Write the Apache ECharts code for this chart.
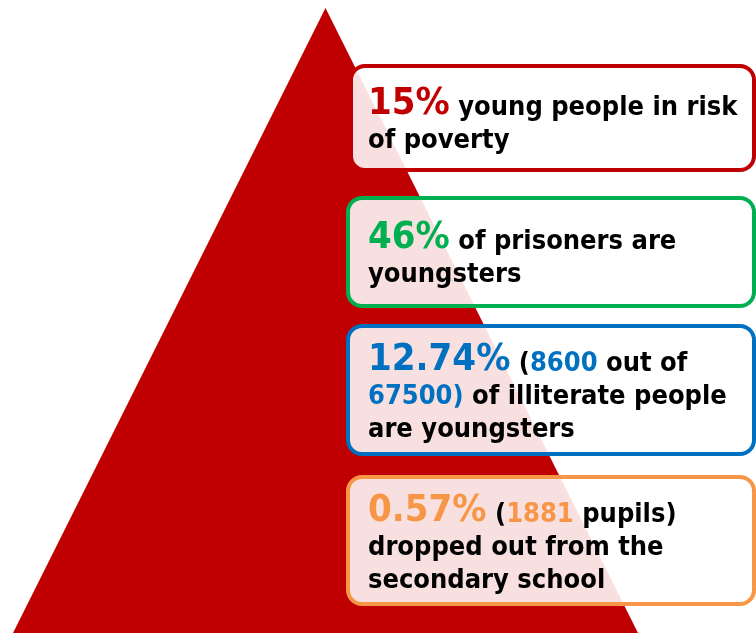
<!DOCTYPE html>
<html>
<head>
<meta charset="utf-8">
<script src="https://cdn.jsdelivr.net/npm/echarts@6/dist/echarts.min.js"></script>
<style>
html,body{margin:0;padding:0;background:#fff;}
#main{width:756px;height:633px;}
</style>
</head>
<body>
<div id="main"></div>
<script>
// ---- data ----
const pyramidValue = [100];
const statColors = ['#C00000', '#00B050', '#0070C0', '#F79646'];
const statValues = ['15%', '46%', '12.74%', '0.57%'];
const statLines = [
  ['{n|15%} {t|young people in risk}', '{t|of poverty}'],
  ['{n|46%} {t|of prisoners are}', '{t|youngsters}'],
  ['{n|12.74%} {t|(}{c|8600}{t| out of}', '{c|67500)}{t| of illiterate people}', '{t|are youngsters}'],
  ['{n|0.57%} {t|(}{c|1881}{t| pupils)}', '{t|dropped out from the}', '{t|secondary school}']
];

// ---- layout ----
const boxes = [
  {x: 351, y: 66, w: 403, h: 104, ty: 88},
  {x: 348, y: 198, w: 406, h: 108, ty: 222},
  {x: 348, y: 326, w: 406, h: 128, ty: 344},
  {x: 348, y: 477, w: 406, h: 127, ty: 495}
];
const FONT = "'DejaVu Sans Condensed', 'DejaVu Sans', sans-serif";

const chart = echarts.init(document.getElementById('main'), null, {renderer: 'canvas'});
const graphics = [];
boxes.forEach((b, i) => {
  graphics.push({
    type: 'rect',
    z: 100,
    shape: {x: b.x, y: b.y, width: b.w, height: b.h, r: 14},
    style: {fill: 'rgba(255,255,255,0.88)', stroke: statColors[i], lineWidth: 4},
    silent: true
  });
  graphics.push({
    type: 'text',
    z: 101,
    x: 368, y: b.ty,
    silent: true,
    style: {
      text: statLines[i].join('\n'),
      fontFamily: FONT, fontWeight: 'bold', fontSize: 27,
      fill: '#000',
      verticalAlign: 'top',
      lineHeight: 33,
      rich: {
        n: {fontFamily: FONT, fontWeight: 'bold', fontSize: 38, fill: statColors[i], height: 34, lineHeight: 33, verticalAlign: 'bottom'},
        t: {fontFamily: FONT, fontWeight: 'bold', fontSize: 27, fill: '#000', height: 27, lineHeight: 33, verticalAlign: 'bottom'},
        c: {fontFamily: FONT, fontWeight: 'bold', fontSize: 27, fill: statColors[i], height: 27, lineHeight: 33, verticalAlign: 'bottom'}
      }
    }
  });
});

chart.setOption({
  animation: false,
  series: [{
    type: 'funnel',
    sort: 'ascending',
    z: 1,
    left: 13, top: 8, width: 625, height: 625,
    min: 0, max: 100,
    minSize: '0%', maxSize: '100%',
    gap: 0,
    silent: true,
    label: {show: false},
    labelLine: {show: false},
    itemStyle: {color: '#C00000', borderWidth: 0},
    emphasis: {disabled: true},
    data: pyramidValue.map(v => ({value: v, name: 'pyramid'}))
  }],
  graphic: graphics
});
</script>
</body>
</html>
